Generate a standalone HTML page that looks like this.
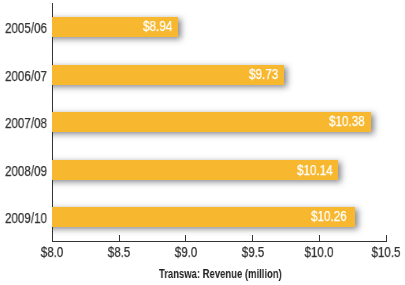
<!DOCTYPE html>
<html><head><meta charset="utf-8">
<style>
html,body{margin:0;padding:0;background:#fff;}
body{width:405px;height:285px;position:relative;overflow:hidden;font-family:"Liberation Sans",sans-serif;}
.bar{position:absolute;left:52px;height:20px;background:#F7B72E;}
.sh{position:absolute;left:32px;height:20px;background:#fff;box-shadow:3px 2px 6px rgba(58,60,70,0.62);clip-path:inset(-12px -12px -12px 20px);}
.ax{position:absolute;background:#333;}
.t{position:absolute;white-space:nowrap;line-height:1;color:#333;-webkit-text-stroke:0.25px currentColor;will-change:transform;}
.yl{font-size:14px;transform-origin:0 0;transform:scaleX(0.83);}
.vl{font-size:14px;color:#fff;transform-origin:0 0;transform:scaleX(0.835);}
.xl{font-size:14px;transform-origin:50% 0;transform:scaleX(0.83);text-align:center;width:60px;}
.title{color:#222;-webkit-text-stroke:0;font-weight:bold;font-size:12px;transform-origin:0 0;transform:scaleX(0.79);}
</style></head><body>

<div class="sh" style="top:17px;width:146px"></div>
<div class="sh" style="top:65px;width:252px"></div>
<div class="sh" style="top:112px;width:339px"></div>
<div class="sh" style="top:160px;width:306px"></div>
<div class="sh" style="top:207px;width:323px"></div>
<div class="ax" style="left:52px;top:3px;width:1px;height:239px"></div>
<div class="ax" style="left:52px;top:241px;width:335px;height:1px"></div>
<div class="ax" style="left:119px;top:235px;width:1px;height:6px"></div>
<div class="ax" style="left:185px;top:235px;width:1px;height:6px"></div>
<div class="ax" style="left:252px;top:235px;width:1px;height:6px"></div>
<div class="ax" style="left:319px;top:235px;width:1px;height:6px"></div>
<div class="ax" style="left:386px;top:235px;width:1px;height:6px"></div>
<div class="bar" style="top:17px;width:126px"></div>
<div class="bar" style="top:65px;width:232px"></div>
<div class="bar" style="top:112px;width:319px"></div>
<div class="bar" style="top:160px;width:286px"></div>
<div class="bar" style="top:207px;width:303px"></div>
<div class="t yl" style="left:5.1px;top:20.80px">2005/06</div>
<div class="t yl" style="left:5.1px;top:68.80px">2006/07</div>
<div class="t yl" style="left:5.1px;top:115.80px">2007/08</div>
<div class="t yl" style="left:5.1px;top:163.80px">2008/09</div>
<div class="t yl" style="left:5.1px;top:210.80px">2009/10</div>
<div class="t vl" style="left:142.95px;top:18.90px">$8.94</div>
<div class="t vl" style="left:248.65px;top:66.66px">$9.73</div>
<div class="t vl" style="left:328.85px;top:114.06px">$10.38</div>
<div class="t vl" style="left:296.95px;top:163.00px">$10.14</div>
<div class="t vl" style="left:311.35px;top:209.16px">$10.26</div>
<div class="t xl" style="left:22.00px;top:244.8px">$8.0</div>
<div class="t xl" style="left:88.85px;top:244.8px">$8.5</div>
<div class="t xl" style="left:155.55px;top:244.8px">$9.0</div>
<div class="t xl" style="left:222.50px;top:244.8px">$9.5</div>
<div class="t xl" style="left:288.80px;top:244.8px">$10.0</div>
<div class="t xl" style="left:355.50px;top:244.8px">$10.5</div>
<div class="t title" style="left:159.2px;top:268.1px">Transwa: Revenue (million)</div>
</body></html>
